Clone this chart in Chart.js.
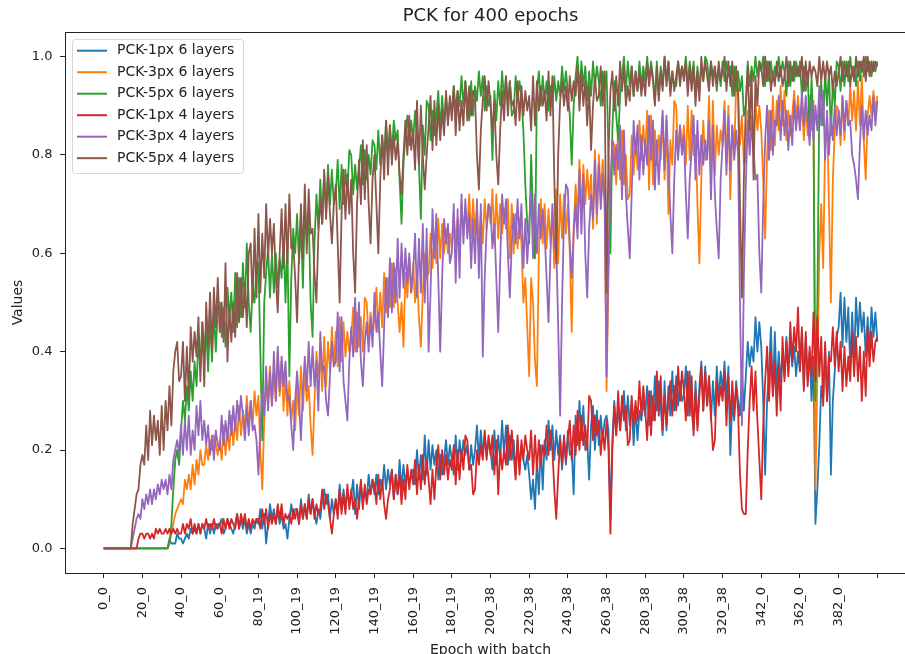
<!DOCTYPE html>
<html>
<head>
<meta charset="utf-8">
<title>PCK for 400 epochs</title>
<script src="https://cdn.jsdelivr.net/npm/chart.js@4.4.1/dist/chart.umd.min.js"></script>
<style>
  html, body { margin: 0; padding: 0; background: #fff; overflow: hidden; }
  #wrap { width: 916px; height: 662px; }
</style>
</head>
<body>
<div id="wrap"><canvas id="pck" width="916" height="662"></canvas></div>
<script>
// x axis: two samples per epoch, a labelled tick every 20 samples
const TICK_EVERY = 20;
const xTickLabels = ['0_0', '20_0', '40_0', '60_0', '80_19', '100_19', '120_19', '140_19', '160_19', '180_19',
  '200_38', '220_38', '240_38', '260_38', '280_38', '300_38', '320_38', '342_0', '362_0', '382_0', ''];
const yTickValues = [0, 0.2, 0.4, 0.6, 0.8, 1.0];

// one row per tick interval
const pck1px6 = [
  0, 0, 0, 0, 0, 0, 0, 0, 0, 0, 0, 0, 0, 0, 0, 0, 0, 0, 0, 0,
  0, 0, 0, 0, 0, 0, 0, 0, 0, 0, 0, 0, 0, 0, 0.02, 0.01, 0.01, 0.01, 0.03, 0.02,
  0.02, 0.01, 0.02, 0.03, 0.02, 0.04, 0.03, 0.04, 0.03, 0.05, 0.03, 0.05, 0.04, 0.02, 0.05, 0.03, 0.05, 0.03, 0.05, 0.04,
  0.05, 0.06, 0.03, 0.04, 0.06, 0.05, 0.04, 0.03, 0.05, 0.07, 0.04, 0.06, 0.04, 0.06, 0.03, 0.05, 0.03, 0.05, 0.04, 0.06,
  0.05, 0.08, 0.04, 0.07, 0.01, 0.05, 0.09, 0.06, 0.08, 0.05, 0.08, 0.05, 0.07, 0.04, 0.05, 0.02, 0.06, 0.09, 0.06, 0.08,
  0.08, 0.05, 0.1, 0.06, 0.09, 0.06, 0.11, 0.07, 0.1, 0.07, 0.05, 0.08, 0.06, 0.1, 0.12, 0.09, 0.11, 0.06, 0.1, 0.07,
  0.1, 0.07, 0.13, 0.08, 0.12, 0.08, 0.12, 0.09, 0.11, 0.14, 0.07, 0.13, 0.08, 0.13, 0.09, 0.12, 0.1, 0.15, 0.11, 0.14,
  0.11, 0.15, 0.11, 0.14, 0.12, 0.17, 0.12, 0.16, 0.13, 0.16, 0.1, 0.15, 0.11, 0.18, 0.12, 0.17, 0.13, 0.16, 0.13, 0.15,
  0.16, 0.13, 0.2, 0.14, 0.19, 0.14, 0.23, 0.15, 0.22, 0.16, 0.21, 0.17, 0.2, 0.14, 0.19, 0.15, 0.18, 0.22, 0.17, 0.21,
  0.18, 0.15, 0.23, 0.16, 0.22, 0.18, 0.22, 0.19, 0.21, 0.16, 0.21, 0.17, 0.2, 0.25, 0.18, 0.24, 0.19, 0.23, 0.19, 0.22,
  0.2, 0.16, 0.24, 0.17, 0.23, 0.18, 0.26, 0.19, 0.25, 0.17, 0.23, 0.18, 0.22, 0.15, 0.22, 0.16, 0.21, 0.18, 0.16, 0.19,
  0.15, 0.1, 0.14, 0.08, 0.18, 0.11, 0.21, 0.12, 0.22, 0.18, 0.26, 0.2, 0.25, 0.18, 0.24, 0.19, 0.23, 0.16, 0.22, 0.17,
  0.24, 0.19, 0.2, 0.11, 0.27, 0.21, 0.3, 0.22, 0.29, 0.2, 0.22, 0.14, 0.25, 0.29, 0.2, 0.28, 0.21, 0.27, 0.22, 0.26,
  0.27, 0.24, 0.06, 0.22, 0.3, 0.23, 0.29, 0.24, 0.28, 0.32, 0.24, 0.31, 0.25, 0.3, 0.21, 0.29, 0.22, 0.28, 0.26, 0.3,
  0.27, 0.33, 0.25, 0.32, 0.26, 0.35, 0.28, 0.34, 0.29, 0.23, 0.34, 0.24, 0.33, 0.27, 0.36, 0.28, 0.35, 0.29, 0.34, 0.3,
  0.31, 0.37, 0.27, 0.36, 0.28, 0.24, 0.34, 0.25, 0.33, 0.38, 0.28, 0.37, 0.29, 0.35, 0.26, 0.34, 0.27, 0.37, 0.3, 0.36,
  0.32, 0.38, 0.3, 0.37, 0.19, 0.3, 0.26, 0.34, 0.3, 0.27, 0.36, 0.28, 0.35, 0.42, 0.37, 0.41, 0.38, 0.47, 0.4, 0.46,
  0.41, 0.3, 0.15, 0.3, 0.36, 0.45, 0.31, 0.44, 0.32, 0.4, 0.34, 0.39, 0.35, 0.43, 0.36, 0.42, 0.37, 0.41, 0.35, 0.4,
  0.36, 0.44, 0.33, 0.43, 0.34, 0.4, 0.3, 0.39, 0.05, 0.12, 0.21, 0.33, 0.3, 0.41, 0.3, 0.4, 0.15, 0.3, 0.36, 0.43,
  0.45, 0.52, 0.41, 0.51, 0.42, 0.49, 0.37, 0.48, 0.38, 0.51, 0.43, 0.5, 0.44, 0.48, 0.39, 0.47, 0.4, 0.49, 0.43, 0.48,
  0.42,
];

const pck3px6 = [
  0, 0, 0, 0, 0, 0, 0, 0, 0, 0, 0, 0, 0, 0, 0, 0, 0, 0, 0, 0,
  0, 0, 0, 0, 0, 0, 0, 0, 0, 0, 0, 0, 0, 0, 0.01, 0.03, 0.05, 0.07, 0.08, 0.09,
  0.1, 0.09, 0.14, 0.12, 0.15, 0.12, 0.17, 0.13, 0.18, 0.15, 0.2, 0.17, 0.17, 0.21, 0.18, 0.22, 0.2, 0.23, 0.21, 0.19,
  0.22, 0.18, 0.25, 0.19, 0.24, 0.2, 0.27, 0.21, 0.26, 0.22, 0.29, 0.23, 0.28, 0.24, 0.31, 0.25, 0.3, 0.25, 0.32, 0.27,
  0.31, 0.2, 0.12, 0.26, 0.33, 0.3, 0.37, 0.29, 0.36, 0.3, 0.4, 0.31, 0.38, 0.28, 0.35, 0.27, 0.34, 0.26, 0.3, 0.24,
  0.33, 0.27, 0.37, 0.28, 0.36, 0.3, 0.33, 0.25, 0.19, 0.3, 0.4, 0.35, 0.39, 0.32, 0.43, 0.33, 0.42, 0.36, 0.45, 0.37,
  0.44, 0.37, 0.47, 0.38, 0.46, 0.39, 0.44, 0.4, 0.43, 0.49, 0.4, 0.48, 0.41, 0.47, 0.4, 0.51, 0.5, 0.42, 0.48, 0.43,
  0.47, 0.53, 0.44, 0.52, 0.45, 0.56, 0.48, 0.55, 0.49, 0.58, 0.49, 0.57, 0.5, 0.44, 0.5, 0.41, 0.56, 0.51, 0.59, 0.52,
  0.58, 0.5, 0.56, 0.47, 0.41, 0.52, 0.6, 0.55, 0.56, 0.64, 0.57, 0.63, 0.58, 0.67, 0.59, 0.66, 0.6, 0.65, 0.6, 0.64,
  0.61, 0.68, 0.62, 0.67, 0.63, 0.7, 0.64, 0.69, 0.65, 0.72, 0.63, 0.71, 0.64, 0.69, 0.61, 0.68, 0.62, 0.71, 0.65, 0.7,
  0.66, 0.73, 0.62, 0.72, 0.63, 0.7, 0.64, 0.69, 0.65, 0.71, 0.59, 0.7, 0.6, 0.68, 0.61, 0.67, 0.62, 0.5, 0.55, 0.45,
  0.35, 0.55, 0.5, 0.38, 0.33, 0.6, 0.71, 0.62, 0.7, 0.61, 0.69, 0.62, 0.68, 0.57, 0.73, 0.58, 0.72, 0.63, 0.72, 0.64,
  0.7, 0.6, 0.44, 0.65, 0.74, 0.67, 0.79, 0.68, 0.78, 0.7, 0.77, 0.71, 0.76, 0.65, 0.81, 0.66, 0.8, 0.72, 0.79, 0.73,
  0.32, 0.55, 0.69, 0.83, 0.82, 0.74, 0.86, 0.75, 0.85, 0.74, 0.8, 0.71, 0.72, 0.84, 0.76, 0.83, 0.77, 0.87, 0.79, 0.86,
  0.8, 0.89, 0.73, 0.88, 0.74, 0.85, 0.78, 0.84, 0.79, 0.88, 0.75, 0.87, 0.68, 0.83, 0.78, 0.91, 0.9, 0.8, 0.86, 0.81,
  0.86, 0.78, 0.9, 0.79, 0.89, 0.8, 0.84, 0.7, 0.58, 0.75, 0.87, 0.79, 0.8, 0.92, 0.75, 0.91, 0.76, 0.86, 0.8, 0.85,
  0.82, 0.91, 0.78, 0.9, 0.71, 0.86, 0.8, 0.94, 0.93, 0.82, 0.88, 0.78, 0.79, 0.89, 0.82, 0.88, 0.83, 0.91, 0.85, 0.9,
  0.85, 0.75, 0.63, 0.8, 0.89, 0.81, 0.92, 0.82, 0.91, 0.85, 0.94, 0.86, 0.93, 0.83, 0.89, 0.84, 0.88, 0.93, 0.87, 0.92,
  0.86, 0.91, 0.83, 0.9, 0.84, 0.92, 0.85, 0.91, 0.12, 0.35, 0.6, 0.7, 0.57, 0.82, 0.88, 0.7, 0.5, 0.75, 0.85, 0.9,
  0.89, 0.82, 0.92, 0.83, 0.91, 0.86, 0.94, 0.87, 0.93, 0.85, 0.95, 0.86, 0.96, 0.83, 0.75, 0.88, 0.92, 0.88, 0.93, 0.89,
  0.92,
];

const pck5px6 = [
  0, 0, 0, 0, 0, 0, 0, 0, 0, 0, 0, 0, 0, 0, 0, 0, 0, 0, 0, 0,
  0, 0, 0, 0, 0, 0, 0, 0, 0, 0, 0, 0, 0, 0, 0.01, 0.05, 0.12, 0.18, 0.2, 0.17,
  0.24, 0.3, 0.26, 0.33, 0.28, 0.36, 0.3, 0.38, 0.33, 0.42, 0.37, 0.46, 0.4, 0.45, 0.36, 0.47, 0.38, 0.48, 0.4, 0.49,
  0.5, 0.43, 0.49, 0.41, 0.53, 0.47, 0.52, 0.44, 0.56, 0.45, 0.55, 0.47, 0.58, 0.49, 0.62, 0.5, 0.44, 0.53, 0.5, 0.57,
  0.58, 0.4, 0.22, 0.5, 0.56, 0.61, 0.51, 0.6, 0.52, 0.6, 0.53, 0.59, 0.55, 0.63, 0.5, 0.62, 0.35, 0.55, 0.65, 0.6,
  0.68, 0.58, 0.66, 0.53, 0.7, 0.63, 0.68, 0.5, 0.43, 0.62, 0.72, 0.65, 0.75, 0.66, 0.76, 0.68, 0.78, 0.7, 0.77, 0.7,
  0.72, 0.79, 0.69, 0.78, 0.7, 0.77, 0.72, 0.81, 0.8, 0.72, 0.78, 0.73, 0.77, 0.82, 0.74, 0.81, 0.75, 0.8, 0.76, 0.83,
  0.82, 0.77, 0.85, 0.78, 0.84, 0.79, 0.87, 0.8, 0.86, 0.8, 0.87, 0.83, 0.85, 0.75, 0.66, 0.78, 0.84, 0.88, 0.82, 0.87,
  0.83, 0.89, 0.84, 0.78, 0.67, 0.86, 0.8, 0.91, 0.9, 0.83, 0.89, 0.84, 0.88, 0.93, 0.85, 0.92, 0.86, 0.92, 0.87, 0.91,
  0.89, 0.94, 0.89, 0.93, 0.9, 0.96, 0.9, 0.95, 0.91, 0.87, 0.95, 0.88, 0.94, 0.91, 0.97, 0.92, 0.96, 0.89, 0.94, 0.9,
  0.92, 0.79, 0.93, 0.87, 0.95, 0.9, 0.97, 0.91, 0.96, 0.9, 0.95, 0.88, 0.89, 0.96, 0.91, 0.95, 0.92, 0.85, 0.74, 0.66,
  0.62, 0.8, 0.68, 0.59, 0.93, 0.97, 0.9, 0.96, 0.91, 0.95, 0.89, 0.94, 0.9, 0.96, 0.91, 0.95, 0.92, 0.98, 0.93, 0.97,
  0.93, 0.88, 0.78, 0.9, 0.96, 1.0, 0.93, 0.99, 0.94, 0.98, 0.91, 0.97, 0.92, 0.99, 0.94, 0.98, 0.95, 0.9, 0.97, 0.93,
  0.97, 0.8, 0.6, 0.85, 0.95, 0.88, 0.83, 0.92, 0.96, 1.0, 0.93, 0.99, 0.94, 0.98, 0.92, 0.97, 0.93, 0.99, 0.94, 0.98,
  0.95, 1.0, 0.95, 0.99, 0.96, 0.91, 0.99, 0.92, 0.98, 0.94, 1.0, 0.95, 0.99, 0.93, 0.97, 0.94, 0.94, 0.99, 0.96, 0.98,
  0.96, 1.0, 0.94, 0.99, 0.95, 0.99, 0.92, 0.98, 0.93, 0.98, 0.95, 1.0, 0.99, 0.95, 0.99, 0.96, 0.98, 0.93, 0.98, 0.94,
  0.99, 0.95, 0.99, 0.96, 0.98, 0.92, 0.98, 0.93, 0.97, 0.93, 0.96, 0.88, 0.9, 0.99, 0.94, 0.98, 0.95, 1.0, 0.96, 0.99,
  0.97, 1.0, 0.94, 0.99, 0.95, 0.99, 0.95, 0.98, 0.96, 1.0, 0.96, 0.99, 0.97, 0.92, 0.99, 0.94, 0.98, 0.95, 0.99, 0.96,
  0.99, 0.92, 0.98, 0.93, 0.97, 0.84, 0.96, 0.85, 0.3, 0.5, 0.9, 0.95, 0.86, 0.97, 0.9, 0.97, 0.84, 0.95, 0.9, 0.99,
  0.98, 0.93, 0.99, 0.94, 0.99, 0.95, 1.0, 0.96, 0.98, 0.94, 0.99, 0.95, 0.99, 0.96, 1.0, 0.97, 0.99, 0.96, 0.99, 0.97,
  0.99,
];

const pck1px4 = [
  0, 0, 0, 0, 0, 0, 0, 0, 0, 0, 0, 0, 0, 0, 0, 0, 0, 0, 0.02, 0.03,
  0.03, 0.02, 0.03, 0.03, 0.02, 0.03, 0.02, 0.04, 0.03, 0.04, 0.03, 0.03, 0.04, 0.03, 0.04, 0.03, 0.04, 0.03, 0.04, 0.03,
  0.03, 0.05, 0.03, 0.05, 0.04, 0.06, 0.03, 0.05, 0.03, 0.05, 0.03, 0.05, 0.04, 0.06, 0.04, 0.05, 0.04, 0.06, 0.04, 0.05,
  0.05, 0.03, 0.06, 0.04, 0.06, 0.04, 0.06, 0.05, 0.04, 0.07, 0.04, 0.07, 0.05, 0.07, 0.04, 0.06, 0.04, 0.06, 0.05, 0.06,
  0.06, 0.04, 0.08, 0.05, 0.08, 0.04, 0.07, 0.05, 0.07, 0.05, 0.09, 0.06, 0.09, 0.05, 0.07, 0.06, 0.07, 0.05, 0.08, 0.06,
  0.08, 0.05, 0.09, 0.06, 0.09, 0.06, 0.1, 0.07, 0.1, 0.06, 0.09, 0.07, 0.08, 0.12, 0.08, 0.11, 0.09, 0.06, 0.03, 0.07,
  0.1, 0.06, 0.12, 0.07, 0.11, 0.07, 0.13, 0.08, 0.12, 0.08, 0.1, 0.06, 0.1, 0.14, 0.08, 0.13, 0.09, 0.12, 0.11, 0.14,
  0.13, 0.09, 0.15, 0.1, 0.14, 0.09, 0.06, 0.1, 0.12, 0.16, 0.1, 0.15, 0.11, 0.15, 0.09, 0.14, 0.1, 0.17, 0.12, 0.16,
  0.13, 0.18, 0.11, 0.17, 0.12, 0.19, 0.13, 0.18, 0.14, 0.09, 0.16, 0.1, 0.17, 0.21, 0.14, 0.2, 0.15, 0.19, 0.14, 0.18,
  0.16, 0.21, 0.13, 0.2, 0.14, 0.2, 0.16, 0.23, 0.22, 0.16, 0.17, 0.11, 0.12, 0.2, 0.17, 0.21, 0.18, 0.24, 0.18, 0.23,
  0.19, 0.23, 0.15, 0.22, 0.11, 0.2, 0.16, 0.2, 0.17, 0.25, 0.18, 0.24, 0.19, 0.14, 0.23, 0.15, 0.22, 0.18, 0.23, 0.2,
  0.18, 0.24, 0.15, 0.23, 0.16, 0.22, 0.17, 0.21, 0.19, 0.25, 0.19, 0.24, 0.2, 0.12, 0.06, 0.15, 0.22, 0.17, 0.23, 0.18,
  0.22, 0.26, 0.18, 0.25, 0.19, 0.28, 0.2, 0.27, 0.21, 0.25, 0.2, 0.31, 0.3, 0.22, 0.27, 0.23, 0.26, 0.19, 0.24, 0.2,
  0.26, 0.2, 0.03, 0.2, 0.29, 0.23, 0.32, 0.24, 0.31, 0.26, 0.29, 0.21, 0.22, 0.31, 0.25, 0.3, 0.26, 0.34, 0.27, 0.33,
  0.28, 0.22, 0.32, 0.23, 0.31, 0.26, 0.36, 0.27, 0.35, 0.24, 0.31, 0.25, 0.3, 0.34, 0.27, 0.33, 0.28, 0.37, 0.3, 0.36,
  0.32, 0.26, 0.36, 0.27, 0.35, 0.23, 0.32, 0.24, 0.31, 0.37, 0.28, 0.36, 0.29, 0.35, 0.27, 0.2, 0.22, 0.34, 0.29, 0.33,
  0.3, 0.36, 0.25, 0.35, 0.26, 0.34, 0.27, 0.33, 0.28, 0.15, 0.08, 0.07, 0.07, 0.2, 0.3, 0.37, 0.28, 0.36, 0.26, 0.18,
  0.1, 0.25, 0.34, 0.41, 0.3, 0.4, 0.31, 0.38, 0.27, 0.37, 0.28, 0.43, 0.34, 0.42, 0.35, 0.46, 0.38, 0.45, 0.4, 0.49,
  0.36, 0.45, 0.32, 0.44, 0.33, 0.41, 0.35, 0.48, 0.34, 0.47, 0.35, 0.43, 0.29, 0.42, 0.3, 0.39, 0.38, 0.45, 0.37, 0.44,
  0.36, 0.42, 0.32, 0.41, 0.33, 0.39, 0.34, 0.44, 0.35, 0.43, 0.34, 0.41, 0.3, 0.4, 0.31, 0.45, 0.37, 0.44, 0.38, 0.42,
  0.43,
];

const pck3px4 = [
  0, 0, 0, 0, 0, 0, 0, 0, 0, 0, 0, 0, 0, 0, 0, 0.02, 0.04, 0.06, 0.07, 0.06,
  0.1, 0.08, 0.11, 0.09, 0.12, 0.09, 0.12, 0.1, 0.13, 0.11, 0.14, 0.12, 0.14, 0.11, 0.15, 0.12, 0.18, 0.2, 0.22, 0.19,
  0.25, 0.19, 0.26, 0.2, 0.27, 0.19, 0.24, 0.2, 0.29, 0.23, 0.3, 0.22, 0.26, 0.21, 0.25, 0.19, 0.23, 0.18, 0.24, 0.21,
  0.2, 0.27, 0.21, 0.26, 0.22, 0.28, 0.23, 0.29, 0.24, 0.3, 0.26, 0.31, 0.27, 0.22, 0.29, 0.23, 0.3, 0.24, 0.25, 0.22,
  0.15, 0.25, 0.32, 0.27, 0.37, 0.28, 0.36, 0.29, 0.4, 0.3, 0.41, 0.32, 0.39, 0.33, 0.38, 0.3, 0.31, 0.25, 0.2, 0.3,
  0.36, 0.3, 0.22, 0.32, 0.39, 0.32, 0.42, 0.33, 0.41, 0.33, 0.38, 0.28, 0.44, 0.36, 0.37, 0.3, 0.27, 0.35, 0.42, 0.37,
  0.38, 0.48, 0.36, 0.47, 0.34, 0.3, 0.26, 0.38, 0.45, 0.39, 0.51, 0.4, 0.5, 0.38, 0.33, 0.42, 0.46, 0.4, 0.47, 0.41,
  0.52, 0.44, 0.48, 0.4, 0.33, 0.45, 0.55, 0.47, 0.59, 0.48, 0.58, 0.5, 0.63, 0.51, 0.62, 0.53, 0.61, 0.54, 0.6, 0.52,
  0.56, 0.64, 0.51, 0.63, 0.52, 0.66, 0.5, 0.65, 0.4, 0.52, 0.69, 0.59, 0.68, 0.55, 0.4, 0.55, 0.67, 0.62, 0.66, 0.58,
  0.6, 0.7, 0.54, 0.69, 0.55, 0.72, 0.62, 0.71, 0.63, 0.68, 0.57, 0.67, 0.58, 0.71, 0.55, 0.7, 0.39, 0.55, 0.65, 0.7,
  0.69, 0.61, 0.66, 0.55, 0.44, 0.58, 0.72, 0.66, 0.71, 0.6, 0.51, 0.62, 0.68, 0.62, 0.71, 0.63, 0.7, 0.57, 0.67, 0.58,
  0.66, 0.73, 0.59, 0.72, 0.6, 0.7, 0.63, 0.69, 0.64, 0.55, 0.46, 0.6, 0.7, 0.61, 0.62, 0.45, 0.27, 0.5, 0.67, 0.74,
  0.73, 0.62, 0.55, 0.64, 0.7, 0.63, 0.77, 0.64, 0.76, 0.6, 0.51, 0.65, 0.72, 0.67, 0.79, 0.68, 0.78, 0.69, 0.76, 0.7,
  0.35, 0.6, 0.74, 0.83, 0.76, 0.82, 0.77, 0.86, 0.71, 0.85, 0.72, 0.65, 0.59, 0.72, 0.87, 0.8, 0.86, 0.75, 0.84, 0.76,
  0.83, 0.78, 0.88, 0.79, 0.87, 0.73, 0.83, 0.74, 0.82, 0.89, 0.77, 0.88, 0.78, 0.68, 0.6, 0.75, 0.85, 0.79, 0.86, 0.8,
  0.84, 0.72, 0.63, 0.75, 0.81, 0.88, 0.75, 0.87, 0.76, 0.84, 0.78, 0.83, 0.79, 0.87, 0.71, 0.86, 0.72, 0.65, 0.59, 0.75,
  0.82, 0.89, 0.76, 0.88, 0.77, 0.86, 0.79, 0.85, 0.8, 0.5, 0.25, 0.55, 0.74, 0.87, 0.8, 0.86, 0.81, 0.75, 0.76, 0.6,
  0.52, 0.7, 0.83, 0.9, 0.79, 0.89, 0.8, 0.87, 0.86, 0.92, 0.83, 0.91, 0.84, 0.89, 0.81, 0.88, 0.82, 0.91, 0.85, 0.9,
  0.85, 0.93, 0.86, 0.92, 0.87, 0.82, 0.91, 0.83, 0.9, 0.85, 0.94, 0.86, 0.93, 0.79, 0.89, 0.8, 0.88, 0.83, 0.9, 0.84,
  0.89, 0.84, 0.92, 0.85, 0.91, 0.86, 0.87, 0.8, 0.78, 0.75, 0.71, 0.82, 0.9, 0.83, 0.89, 0.84, 0.88, 0.85, 0.92, 0.86,
  0.91,
];

const pck5px4 = [
  0, 0, 0, 0, 0, 0, 0, 0, 0, 0, 0, 0, 0, 0, 0, 0.05, 0.08, 0.11, 0.12, 0.17,
  0.19, 0.17, 0.25, 0.18, 0.28, 0.21, 0.27, 0.22, 0.26, 0.19, 0.29, 0.2, 0.3, 0.24, 0.33, 0.25, 0.36, 0.4, 0.42, 0.34,
  0.35, 0.42, 0.3, 0.41, 0.31, 0.45, 0.38, 0.44, 0.39, 0.47, 0.34, 0.46, 0.33, 0.5, 0.41, 0.52, 0.4, 0.53, 0.45, 0.55,
  0.44, 0.5, 0.42, 0.58, 0.38, 0.49, 0.42, 0.5, 0.43, 0.56, 0.46, 0.55, 0.47, 0.54, 0.45, 0.6, 0.62, 0.5, 0.65, 0.51,
  0.68, 0.52, 0.64, 0.55, 0.7, 0.59, 0.67, 0.6, 0.66, 0.55, 0.48, 0.6, 0.69, 0.57, 0.7, 0.58, 0.72, 0.61, 0.62, 0.55,
  0.46, 0.6, 0.7, 0.59, 0.74, 0.6, 0.73, 0.64, 0.65, 0.56, 0.5, 0.64, 0.71, 0.66, 0.77, 0.67, 0.76, 0.68, 0.62, 0.7,
  0.74, 0.62, 0.5, 0.68, 0.77, 0.67, 0.76, 0.68, 0.75, 0.6, 0.52, 0.7, 0.79, 0.7, 0.83, 0.71, 0.82, 0.7, 0.62, 0.75,
  0.8, 0.7, 0.6, 0.75, 0.84, 0.75, 0.87, 0.76, 0.86, 0.78, 0.84, 0.79, 0.83, 0.76, 0.72, 0.8, 0.87, 0.8, 0.88, 0.81,
  0.85, 0.77, 0.91, 0.78, 0.9, 0.8, 0.73, 0.8, 0.86, 0.92, 0.81, 0.91, 0.82, 0.9, 0.83, 0.89, 0.84, 0.93, 0.86, 0.92,
  0.87, 0.94, 0.84, 0.93, 0.85, 0.91, 0.86, 0.95, 0.87, 0.94, 0.88, 0.93, 0.92, 0.8, 0.73, 0.85, 0.91, 0.96, 0.89, 0.95,
  0.9, 0.85, 0.91, 0.8, 0.74, 0.85, 0.93, 0.87, 0.96, 0.88, 0.95, 0.9, 0.91, 0.86, 0.95, 0.87, 0.94, 0.88, 0.93, 0.89,
  0.92, 0.85, 0.96, 0.86, 0.95, 0.89, 0.94, 0.9, 0.93, 0.87, 0.97, 0.88, 0.96, 0.75, 0.58, 0.8, 0.91, 0.95, 0.9, 0.94,
  0.89, 0.96, 0.91, 0.95, 0.92, 0.98, 0.89, 0.97, 0.9, 0.95, 0.86, 0.94, 0.81, 0.9, 0.96, 0.91, 0.92, 0.98, 0.9, 0.97,
  0.52, 0.8, 0.93, 0.97, 0.89, 0.96, 0.9, 0.99, 0.93, 0.98, 0.9, 0.94, 0.91, 0.98, 0.92, 0.97, 0.93, 0.97, 0.92, 0.96,
  0.92, 0.99, 0.94, 0.98, 0.95, 0.9, 0.98, 0.91, 0.97, 0.93, 1.0, 0.94, 0.99, 0.92, 0.97, 0.93, 0.96, 0.99, 0.94, 0.98,
  0.95, 0.99, 0.92, 0.98, 0.93, 0.98, 0.9, 0.97, 0.91, 1.0, 0.95, 0.99, 0.96, 0.93, 0.99, 0.94, 0.98, 0.94, 0.99, 0.95,
  0.97, 1.0, 0.93, 0.99, 0.94, 0.99, 0.92, 0.98, 0.93, 0.7, 0.51, 0.75, 0.9, 0.98, 0.85, 0.97, 0.75, 0.96, 0.9, 0.99,
  0.98, 0.94, 1.0, 0.95, 0.99, 0.93, 0.97, 0.94, 0.99, 0.95, 0.98, 0.94, 0.96, 1.0, 0.94, 0.99, 0.95, 0.99, 0.96, 0.98,
  0.96, 1.0, 0.93, 0.99, 0.94, 0.99, 0.96, 0.98, 0.97, 0.94, 1.0, 0.95, 0.99, 0.95, 0.99, 0.96, 0.98, 0.93, 0.97, 0.94,
  0.97, 1.0, 0.95, 0.99, 0.96, 0.99, 0.94, 0.98, 0.95, 1.0, 0.96, 0.99, 0.97, 1.0, 0.95, 1.0, 0.96, 0.99, 0.97, 0.99,
  0.98,
];

const SERIES = [
  { label: 'PCK-1px 6 layers', values: pck1px6, color: '#1f77b4' },
  { label: 'PCK-3px 6 layers', values: pck3px6, color: '#ff7f0e' },
  { label: 'PCK-5px 6 layers', values: pck5px6, color: '#2ca02c' },
  { label: 'PCK-1px 4 layers', values: pck1px4, color: '#d62728' },
  { label: 'PCK-3px 4 layers', values: pck3px4, color: '#9467bd' },
  { label: 'PCK-5px 4 layers', values: pck5px4, color: '#8c564b' },
];

const N_SAMPLES = (xTickLabels.length - 1) * TICK_EVERY + 1;
for (const s of SERIES) {
  if (s.values.length !== N_SAMPLES) throw new Error(`${s.label}: ${s.values.length} samples, expected ${N_SAMPLES}`);
}

const INK = '#222';
Chart.defaults.font.family = '"DejaVu Sans", sans-serif';
Chart.defaults.font.size = 13;
Chart.defaults.color = INK;

// top/right spines, the library only draws the axis borders
const frame = {
  id: 'frame',
  afterDraw(chart) {
    const { ctx, chartArea: a } = chart;
    ctx.save();
    ctx.strokeStyle = INK;
    ctx.lineWidth = 1;
    ctx.beginPath();
    ctx.moveTo(a.left, a.top + 0.5);
    ctx.lineTo(a.right - 0.5, a.top + 0.5);
    ctx.lineTo(a.right - 0.5, a.bottom);
    ctx.stroke();
    ctx.restore();
  },
};

// boxed legend in the upper-left corner of the plot
const cornerLegend = {
  id: 'cornerLegend',
  afterDraw(chart) {
    const { ctx, chartArea: a } = chart;
    const x = a.left + 7, y = a.top + 7, w = 171, h = 134, row = 21.5;
    ctx.save();
    ctx.beginPath();
    ctx.roundRect(x + 0.5, y + 0.5, w, h, 3);
    ctx.fillStyle = 'rgba(255,255,255,0.8)';
    ctx.fill();
    ctx.strokeStyle = '#d6d6d6';
    ctx.lineWidth = 1;
    ctx.stroke();
    ctx.font = '14px "DejaVu Sans"';
    ctx.textBaseline = 'middle';
    chart.data.datasets.forEach((ds, i) => {
      const cy = y + 11.7 + i * row;
      ctx.strokeStyle = ds.borderColor;
      ctx.lineWidth = 2;
      ctx.beginPath();
      ctx.moveTo(x + 5, cy);
      ctx.lineTo(x + 35, cy);
      ctx.stroke();
      ctx.fillStyle = INK;
      ctx.fillText(ds.label, x + 45, cy);
    });
    ctx.restore();
  },
};

new Chart(document.getElementById('pck'), {
  type: 'line',
  data: {
    // later series sit on top, as in the original plotting order
    datasets: SERIES.map((s, i) => ({
      label: s.label,
      data: s.values.map((v, k) => ({ x: k, y: v })),
      borderColor: s.color,
      backgroundColor: s.color,
      borderWidth: 1.8,
      borderJoinStyle: 'round',
      pointRadius: 0,
      tension: 0,
      order: SERIES.length - i,
    })),
  },
  options: {
    responsive: false,
    animation: false,
    devicePixelRatio: 1,
    layout: { padding: 0 },
    plugins: {
      legend: { display: false },
      tooltip: { enabled: false },
      title: {
        display: true,
        fullSize: false,
        text: 'PCK for 400 epochs',
        color: INK,
        font: { size: 18, weight: 'normal' },
        padding: { top: 6, bottom: 4.4 },
      },
    },
    scales: {
      x: {
        type: 'linear',
        min: -TICK_EVERY,
        max: N_SAMPLES - 1 + TICK_EVERY,
        afterBuildTicks: (sc) => { sc.ticks = xTickLabels.map((_, i) => ({ value: i * TICK_EVERY })); },
        afterFit: (sc) => { sc.height = 89; sc.paddingLeft = 0; sc.paddingRight = 0; },
        ticks: {
          autoSkip: false,
          minRotation: 90,
          maxRotation: 90,
          padding: 9,
          color: INK,
          callback: (v) => xTickLabels[Math.round(v / TICK_EVERY)] ?? '',
        },
        grid: { drawOnChartArea: false, drawTicks: true, tickLength: 5, tickColor: INK },
        border: { display: true, color: INK, width: 1 },
        title: { display: true, text: 'Epoch with batch', color: INK, font: { size: 14 }, padding: { top: 0, bottom: 3.5 } },
      },
      y: {
        type: 'linear',
        min: -0.05,
        max: 1.05,
        afterBuildTicks: (sc) => { sc.ticks = yTickValues.map((v) => ({ value: v })); },
        afterFit: (sc) => { sc.width = 65; },
        ticks: {
          padding: 7.5,
          color: INK,
          callback: (v) => v.toFixed(1),
        },
        grid: { drawOnChartArea: false, drawTicks: true, tickLength: 5, tickColor: INK },
        border: { display: true, color: INK, width: 1 },
        title: { display: true, text: 'Values', color: INK, font: { size: 14 }, padding: { top: 9.5, bottom: 0 } },
      },
    },
  },
  plugins: [frame, cornerLegend],
});
</script>
</body>
</html>
